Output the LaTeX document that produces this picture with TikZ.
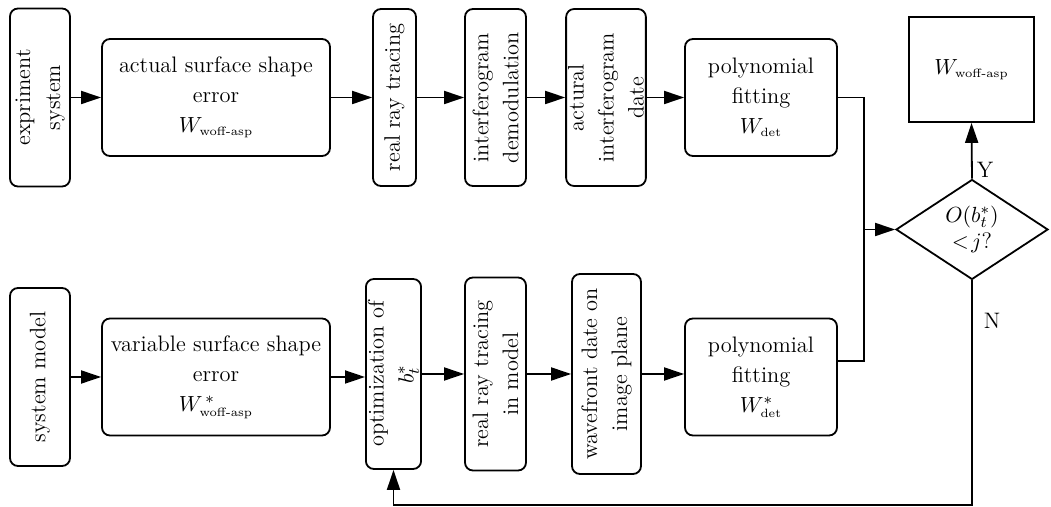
\documentclass[tikz,border=0pt]{standalone}
\usetikzlibrary{arrows.meta,shapes.geometric}
\newcommand{\sbs}[1]{\mbox{\fontsize{6}{7}\selectfont #1}}
\begin{document}
\begin{tikzpicture}[x=0.5pt,y=-0.5pt, line width=0.9pt,
  box/.style={draw, rounded corners=4pt, align=center, inner sep=1pt, font=\fontsize{11.2}{15}\selectfont},
  vbox/.style={box, rotate=90},
  arr/.style={-{Triangle[length=10pt,width=6.5pt]}},
  lbl/.style={font=\fontsize{11.2}{14}\selectfont, inner sep=1pt}]
\useasboundingbox (0,0) rectangle (1051,507);
% top row
\node[vbox, minimum width=89pt, minimum height=30pt] (exp) at (40,97.5) {expriment\\system};
\node[box, minimum width=114pt, minimum height=58.5pt] (act) at (216,97.5) {actual surface shape\\error\\$W_{\sbs{woff-asp}}$};
\node[vbox, minimum width=88.5pt, minimum height=21.5pt] (rrt) at (394.5,97.5) {real ray tracing};
\node[vbox, minimum width=88.5pt, minimum height=30.5pt] (dem) at (495.5,97.5) {interferogram\\demodulation};
\node[vbox, minimum width=88.5pt, minimum height=34pt] (aid) at (606,97.5) {actural\\interferogram\\date};
\node[box, minimum width=76pt, minimum height=58.5pt] (pf1) at (761,97.5) {polynomial\\fitting\\$W_{\sbs{det}}$};
\node[draw, minimum width=62.5pt, minimum height=52.5pt, inner sep=1pt, font=\fontsize{11.2}{14}\selectfont] (out) at (971.5,69.5) {$W_{\sbs{woff-asp}}$};
\node[draw, diamond, minimum width=76pt, minimum height=38.5pt, inner sep=0pt, align=center, font=\fontsize{11.2}{13}\selectfont] (dia) at (972,229.5) {$O(b^{*}_{t})$\\$<\!j$?};
% bottom row
\node[vbox, minimum width=89pt, minimum height=30pt] (sm) at (40,377) {system model};
\node[box, minimum width=114pt, minimum height=58.5pt] (var) at (216,377) {variable surface shape\\error\\$W^{\,*}_{\sbs{woff-asp}}$};
\node[vbox, minimum width=95pt, minimum height=25.5pt] (opt) at (393.5,374) {optimization of\\$b^{*}_{t}$};
\node[vbox, minimum width=96.5pt, minimum height=30.5pt] (rrm) at (495.5,374) {real ray tracing\\in model};
\node[vbox, minimum width=100pt, minimum height=34.5pt] (wav) at (606.5,374) {wavefront date on\\image plane};
\node[box, minimum width=76pt, minimum height=58.5pt] (pf2) at (761,377) {polynomial\\fitting\\$W^{*}_{\sbs{det}}$};
% connectors top
\draw[arr] (exp) -- (act);
\draw[arr] (act) -- (rrt);
\draw[arr] (rrt) -- (dem);
\draw[arr] (dem) -- (aid);
\draw[arr] (aid) -- (pf1);
% connectors bottom
\draw[arr] (sm) -- (var);
\draw[arr] (var.east) -- (opt.north |- var.east);
\draw[arr] (opt.south |- 0,374) -- (rrm.north |- 0,374);
\draw[arr] (rrm.south |- 0,374) -- (wav.north |- 0,374);
\draw[arr] (wav.south |- 0,374) -- (pf2.west |- 0,374);
% merge to decision
\coordinate (j1) at (864,97.5);
\coordinate (j2) at (864,361);
\draw (pf1.east) -- (j1) -- (j2) -- (pf2.east |- j2);
\draw[arr] (j1 |- dia) -- (dia.west);
\draw[arr] (dia.north) -- (out.south);
\node[lbl] (ly) at (985,170) {Y};
\coordinate (c1) at (972,505);
\draw[arr] (dia.south) -- (c1) -| (opt.west);
\node[lbl] (ln) at (992,321) {N};
\end{tikzpicture}
\end{document}
